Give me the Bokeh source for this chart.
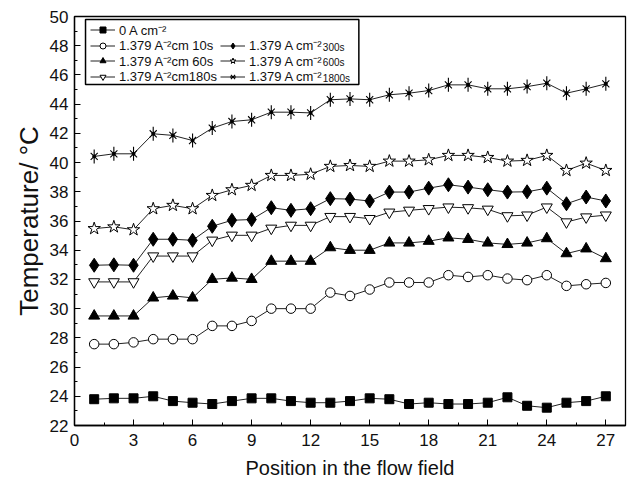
from bokeh.plotting import figure
from bokeh.models import FixedTicker, Legend, LegendItem, Label, Range1d, BoxAnnotation
from bokeh.embed import file_html
from bokeh.resources import INLINE

# Measurement positions along the flow field
position = list(range(1, 28))

# Temperature (°C) at each position
t_0a = [23.80, 23.86, 23.86, 24.00, 23.67, 23.56, 23.47, 23.67, 23.86, 23.86,
        23.67, 23.56, 23.56, 23.67, 23.86, 23.80, 23.47, 23.56, 23.47, 23.47,
        23.56, 23.93, 23.35, 23.22, 23.56, 23.67, 24.00]
t_10s = [27.57, 27.57, 27.69, 27.91, 27.91, 27.91, 28.82, 28.82, 29.16, 30.00,
         30.00, 30.00, 31.10, 30.87, 31.31, 31.79, 31.79, 31.79, 32.29, 32.17,
         32.29, 32.06, 31.95, 32.29, 31.56, 31.67, 31.76]
t_60s = [29.50, 29.50, 29.50, 30.74, 30.87, 30.74, 32.01, 32.10, 32.01, 33.25,
         33.25, 33.25, 34.18, 34.00, 34.00, 34.50, 34.50, 34.62, 34.85, 34.75,
         34.50, 34.40, 34.50, 34.80, 33.77, 34.10, 33.43]
t_180s = [31.83, 31.83, 31.83, 33.60, 33.60, 33.60, 34.68, 35.02, 35.02, 35.50,
          35.70, 35.70, 36.30, 36.30, 36.16, 36.60, 36.73, 36.84, 36.95, 36.90,
          36.80, 36.35, 36.40, 36.95, 35.93, 36.27, 36.40]
t_300s = [32.97, 33.00, 32.97, 34.75, 34.75, 34.68, 35.64, 36.05, 36.10, 36.91,
          36.73, 36.84, 37.53, 37.50, 37.37, 37.98, 37.98, 38.25, 38.48, 38.32,
          38.14, 37.98, 38.00, 38.25, 37.18, 37.64, 37.37]
t_600s = [35.48, 35.60, 35.40, 36.84, 37.07, 36.84, 37.75, 38.14, 38.44, 39.12,
          39.12, 39.20, 39.74, 39.80, 39.74, 40.10, 40.10, 40.19, 40.49, 40.49,
          40.35, 40.10, 40.15, 40.49, 39.46, 39.96, 39.46]
t_1800s = [40.42, 40.60, 40.60, 41.97, 41.86, 41.51, 42.36, 42.81, 42.93, 43.45,
           43.45, 43.40, 44.30, 44.36, 44.30, 44.64, 44.75, 44.93, 45.32, 45.32,
           45.05, 45.05, 45.20, 45.43, 44.75, 45.05, 45.39]

# Legend texts
labels_left = ["0 A cm\u207b\u00b2", "1.379 A\u207b\u00b2cm 10s",
               "1.379 A\u207b\u00b2cm 60s", "1.379 A\u207b\u00b2cm180s"]
labels_right = ["1.379 A cm\u207b\u00b2", "1.379 A cm\u207b\u00b2", "1.379 A cm\u207b\u00b2"]
suffix_right = [" 300s", "600s", "1800s"]

# Axis ticks
x_major = list(range(0, 28, 3))
x_minor = [v + 1.5 for v in range(0, 27, 3)]
y_major = list(range(22, 51, 2))
y_minor = list(range(23, 50, 2))

FONT = "Liberation Sans"
INK = "black"

p = figure(width=634, height=483, x_range=Range1d(0, 28), y_range=Range1d(22, 50),
           output_backend="svg", toolbar_location=None,
           min_border_left=74, min_border_right=9, min_border_top=16, min_border_bottom=58)
p.grid.visible = False
p.background_fill_color = "white"
p.border_fill_color = "white"
p.outline_line_color = INK
p.outline_line_width = 1.3
p.outline_line_alpha = 1

for ax in (p.xaxis[0], p.yaxis[0]):
    ax.axis_line_color = INK
    ax.axis_line_width = 1.3
    ax.major_tick_line_color = INK
    ax.minor_tick_line_color = INK
    ax.major_tick_in = 6
    ax.major_tick_out = 0
    ax.minor_tick_in = 3
    ax.minor_tick_out = 0
    ax.major_label_text_font = FONT
    ax.major_label_text_font_size = "17px"
    ax.major_label_text_color = "#111111"
    ax.axis_label_text_font = FONT
    ax.axis_label_text_font_style = "normal"
    ax.axis_label_text_color = "#111111"

p.xaxis.ticker = FixedTicker(ticks=x_major, minor_ticks=x_minor)
p.yaxis.ticker = FixedTicker(ticks=y_major, minor_ticks=y_minor)
p.xaxis.axis_label = "Position in the flow field"
p.yaxis.axis_label = "Temperature/ \u00b0C"
p.xaxis.axis_label_text_font_size = "20px"
p.yaxis.axis_label_text_font_size = "26px"
p.xaxis.major_label_standoff = 8
p.yaxis.major_label_standoff = 6
p.xaxis.axis_label_standoff = 8
p.yaxis.axis_label_standoff = 3

# legend frame, drawn under the legend rows
p.add_layout(BoxAnnotation(left=0.56, right=14.45, top=49.79, bottom=45.34,
                           fill_color="white", fill_alpha=1,
                           line_color=INK, line_width=1.5, line_alpha=1))


def series(y, marker, size, fill):
    ln = p.line(position, y, line_color="#222222", line_width=1)
    sc = p.scatter(position, y, marker=marker, size=size, fill_color=fill,
                   line_color=INK, line_width=1)
    return [ln, sc]


r_0a = series(t_0a, "square", 9, INK)
r_10s = series(t_10s, "circle", 9.5, "white")
r_60s = series(t_60s, "triangle", 11, INK)
r_180s = series(t_180s, "inverted_triangle", 11, "white")
r_300s = series(t_300s, "diamond", 14, INK)
r_600s = series(t_600s, "star", 13, "white")

# six-armed asterisk: an "x" crossed with a vertical stroke and a centre dot
ln_1800 = p.line(position, t_1800s, line_color="#222222", line_width=1)
x_1800 = p.scatter(position, t_1800s, marker="x", size=10, line_color=INK, line_width=1.1)
v_1800 = p.scatter(position, t_1800s, marker="dash", size=14, angle=1.5708,
                   line_color=INK, line_width=1.1)
p.scatter(position, t_1800s, marker="circle", size=3, fill_color=INK, line_color=INK)
r_1800s = [ln_1800, x_1800, v_1800]

# one legend row per line so the row pitch can be set freely
rows = [
    [(labels_left[0], r_0a)],
    [(labels_left[1], r_10s), (labels_right[0], r_300s)],
    [(labels_left[2], r_60s), (labels_right[1], r_600s)],
    [(labels_left[3], r_180s), (labels_right[2], r_1800s)],
]
row_bottoms = [386.5, 371, 355.5, 340]

for row, yb in zip(rows, row_bottoms):
    lg = Legend(items=[LegendItem(label=t, renderers=r) for t, r in row],
                location=(16, yb), orientation="horizontal",
                label_text_font=FONT, label_text_font_size="13px",
                label_text_color="#111111",
                glyph_width=25, glyph_height=15, label_height=15, label_width=101,
                label_standoff=4, spacing=0, padding=0, margin=0,
                border_line_alpha=0, background_fill_alpha=0)
    p.add_layout(lg)

# smaller run-time suffixes after the right-hand legend labels
for text, y in zip(suffix_right, [47.88, 46.82, 45.76]):
    p.add_layout(Label(x=12.62, y=y, text=text,
                       text_font=FONT, text_font_size="10px", text_color="#111111",
                       text_baseline="middle"))

open("out.html", "w").write(file_html(p, INLINE))
